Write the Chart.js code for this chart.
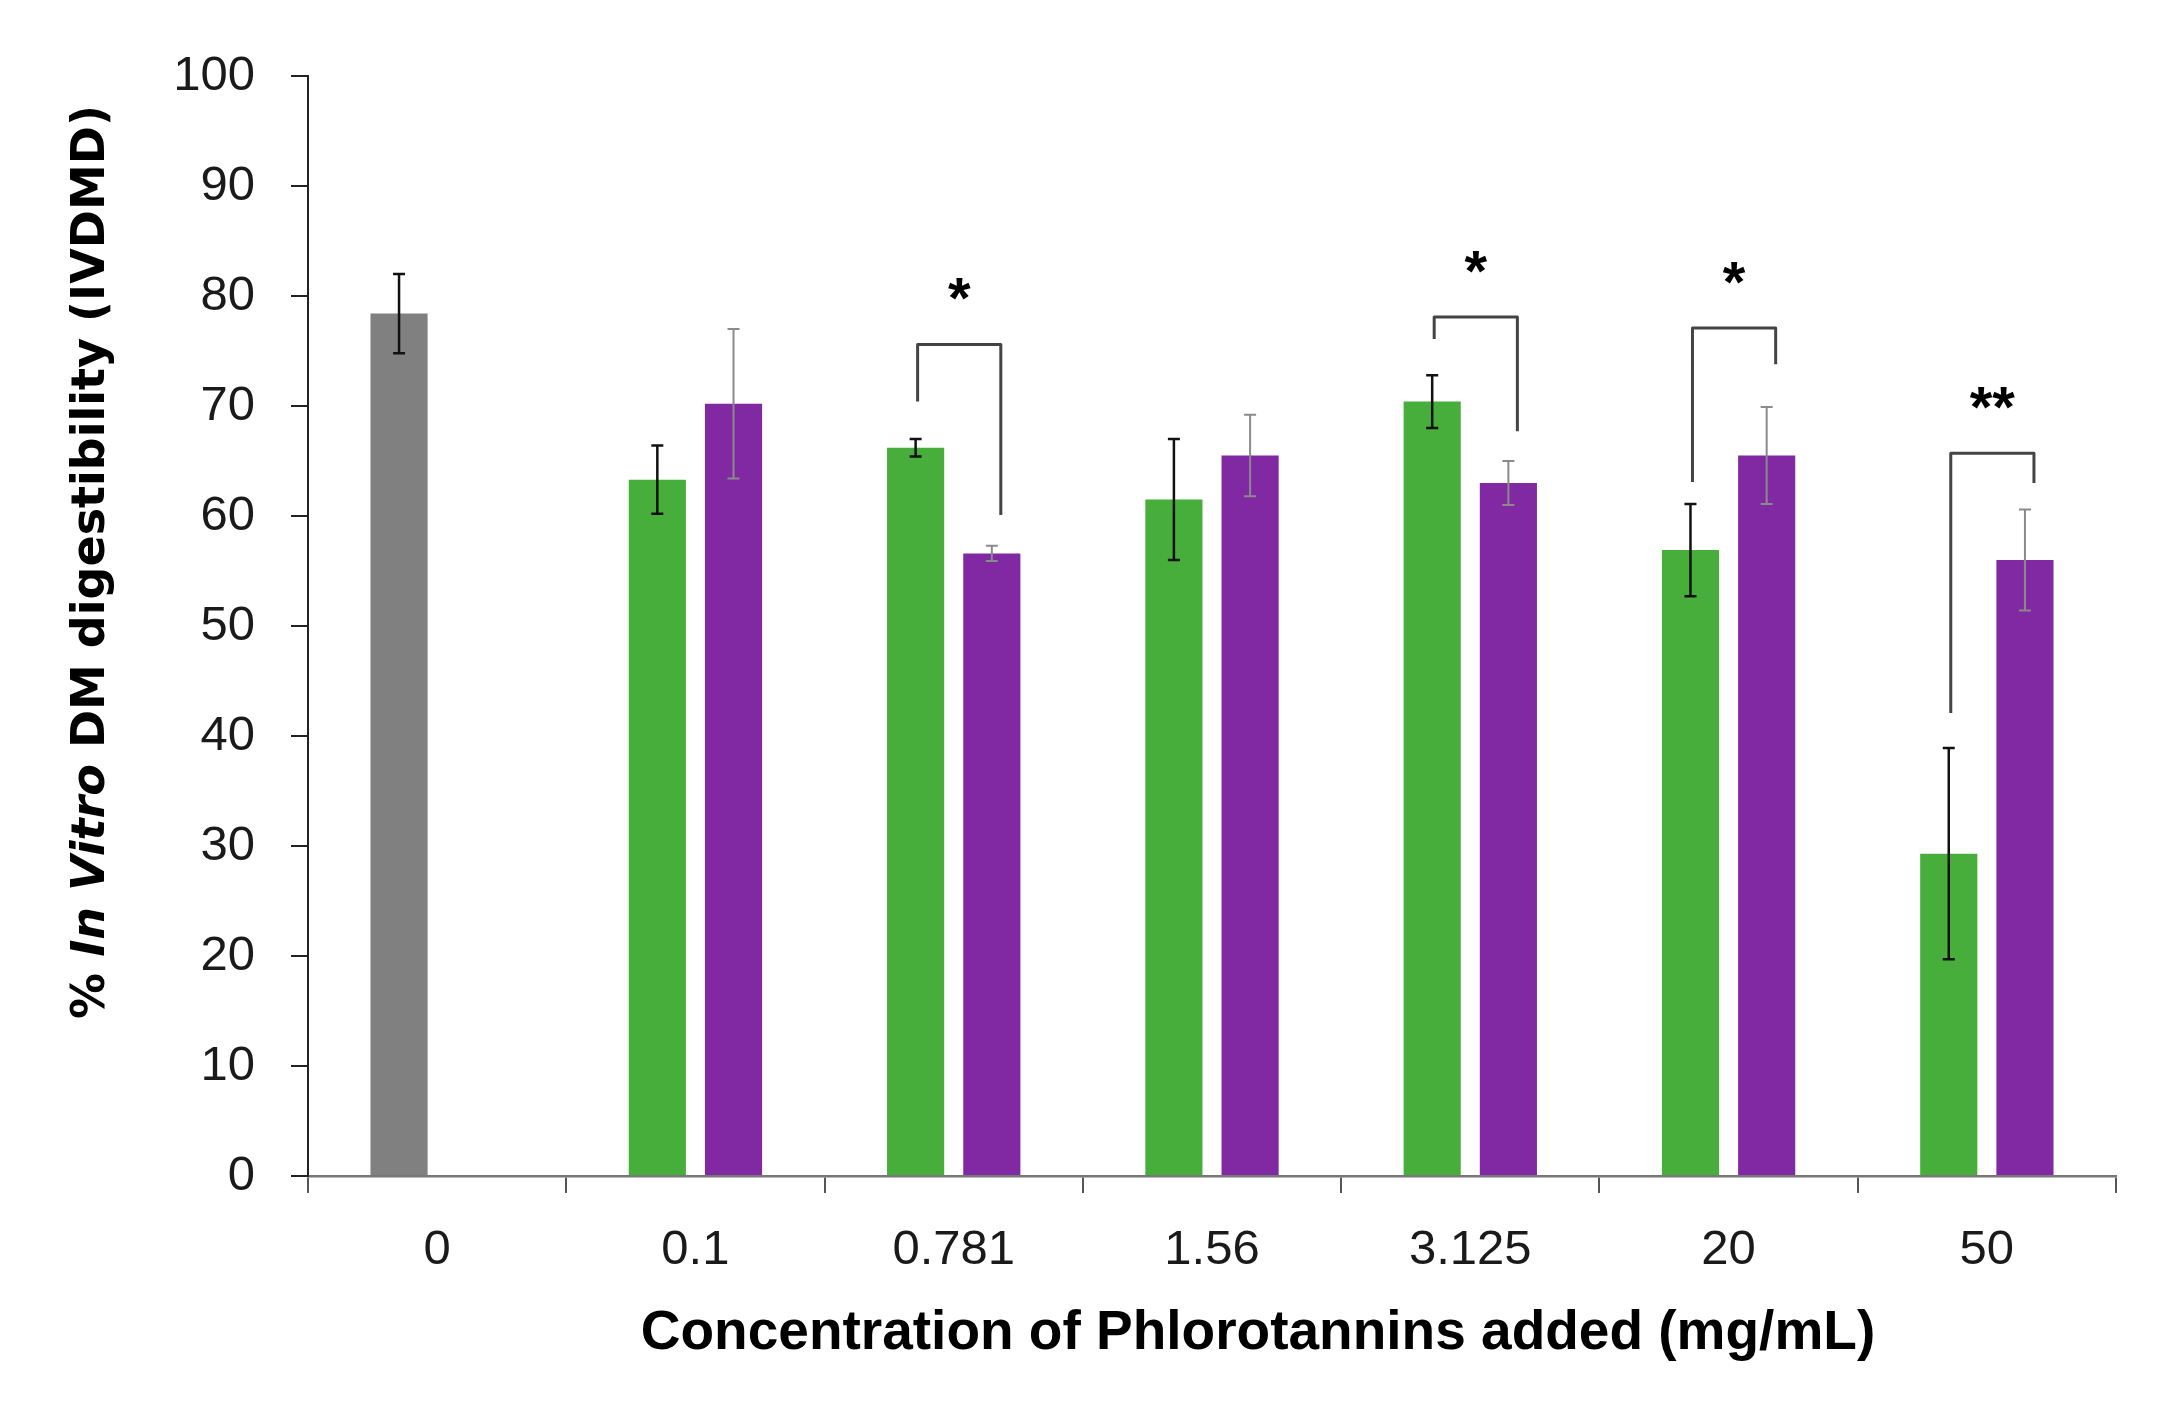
<!DOCTYPE html>
<html>
<head>
<meta charset="utf-8">
<script src="https://cdn.jsdelivr.net/npm/chart.js@4.4.1/dist/chart.umd.min.js"></script>
<style>
  html, body { margin: 0; padding: 0; background: #fff; }
  canvas { display: block; }
</style>
</head>
<body>
<canvas id="chart" width="2166" height="1402"></canvas>
<script>
// concentrations (mg/mL)
const categories = ["0", "0.1", "0.781", "1.56", "3.125", "20", "50"];

// first bar of each group (control in grey, then green)
const seriesA = [78.4, 63.3, 66.2, 61.5, 70.4, 56.9, 29.3];
const errA    = [3.6, 3.1, 0.8, 5.5, 2.4, 4.2, 9.6];

// second bar of each group (purple)
const seriesB = [null, 70.2, 56.6, 65.5, 63.0, 65.5, 56.0];
const errB    = [null, 6.8, 0.7, 3.7, 2.0, 4.4, 4.6];

// significance brackets: category, top of bracket, bottom of left leg, bottom of right leg
const sigIndex = [2, 4, 5, 6];
const sigTop   = [75.6, 78.1, 77.1, 65.7];
const sigLeft  = [70.4, 76.1, 63.1, 42.1];
const sigRight = [60.1, 67.7, 73.8, 63.0];
const sigLabel = ["*", "*", "*", "**"];

const yTicks = [0, 10, 20, 30, 40, 50, 60, 70, 80, 90, 100];

const xTitleText = "Concentration of Phlorotannins added (mg/mL)";

const GREY = "#808080";
const GREEN = "#47ae3b";
const PURPLE = "#8029a2";

const tickFont = { family: "'Liberation Sans', Arial, sans-serif", size: 49 };

// error bars
const errorBars = {
  id: "errorBars",
  afterDatasetsDraw(chart) {
    const ctx = chart.ctx;
    const y = chart.scales.y;
    const sets = [[seriesA, errA, "#111", 2.5], [seriesB, errB, "#8a8a8a", 2]];
    sets.forEach(([vals, errs, color, lw], di) => {
      const meta = chart.getDatasetMeta(di);
      vals.forEach((v, i) => {
        if (v == null) return;
        const x = meta.data[i].x;
        const yTop = y.getPixelForValue(v + errs[i]);
        const yBot = y.getPixelForValue(v - errs[i]);
        ctx.save();
        ctx.strokeStyle = color;
        ctx.lineWidth = lw;
        ctx.beginPath();
        ctx.moveTo(x, yTop); ctx.lineTo(x, yBot);
        ctx.moveTo(x - 6, yTop); ctx.lineTo(x + 6, yTop);
        ctx.moveTo(x - 6, yBot); ctx.lineTo(x + 6, yBot);
        ctx.stroke();
        ctx.restore();
      });
    });
  }
};

// significance brackets and stars
const brackets = {
  id: "brackets",
  afterDatasetsDraw(chart) {
    const ctx = chart.ctx;
    const y = chart.scales.y;
    const metaA = chart.getDatasetMeta(0);
    const metaB = chart.getDatasetMeta(1);
    sigIndex.forEach((idx, k) => {
      const xl = metaA.data[idx].x + 2;
      const xr = metaB.data[idx].x + 9;
      const yt = y.getPixelForValue(sigTop[k]);
      ctx.save();
      ctx.strokeStyle = "#444";
      ctx.lineWidth = 3;
      ctx.lineJoin = "round";
      ctx.beginPath();
      ctx.moveTo(xl, y.getPixelForValue(sigLeft[k]));
      ctx.lineTo(xl, yt);
      ctx.lineTo(xr, yt);
      ctx.lineTo(xr, y.getPixelForValue(sigRight[k]));
      ctx.stroke();
      ctx.fillStyle = "#000";
      ctx.font = "bold 58px 'Liberation Sans', Arial, sans-serif";
      ctx.textAlign = "center";
      ctx.textBaseline = "alphabetic";
      ctx.fillText(sigLabel[k], (xl + xr) / 2, yt - 26);
      ctx.restore();
    });
  }
};

// axis titles (y title has an italic part, x title sits a bit right of centre)
const axisTitles = {
  id: "axisTitles",
  afterDraw(chart) {
    const ctx = chart.ctx;
    const fam = "'DejaVu Sans', Verdana, sans-serif";
    const size = 46;
    const parts = [
      ["% ", "bold"],
      ["In Vitro", "italic bold"],
      [" DM digestibility (IVDMD)", "bold"]
    ];
    ctx.save();
    let total = 0;
    parts.forEach(p => { ctx.font = p[1] + " " + size + "px " + fam; total += ctx.measureText(p[0]).width; });
    ctx.translate(92, 562);
    ctx.rotate(-Math.PI / 2);
    ctx.fillStyle = "#000";
    ctx.textBaseline = "middle";
    ctx.textAlign = "left";
    let x = -total / 2;
    parts.forEach(p => {
      ctx.font = p[1] + " " + size + "px " + fam;
      ctx.fillText(p[0], x, 0);
      x += ctx.measureText(p[0]).width;
    });
    ctx.restore();

    ctx.save();
    ctx.fillStyle = "#000";
    ctx.font = "bold 55px 'Liberation Sans', Arial, sans-serif";
    ctx.textAlign = "center";
    ctx.textBaseline = "middle";
    ctx.fillText(xTitleText, 1258, 1334);
    ctx.restore();
  }
};

new Chart(document.getElementById("chart"), {
  type: "bar",
  data: {
    labels: categories,
    datasets: [
      {
        label: "A",
        data: seriesA,
        backgroundColor: categories.map((c, i) => i === 0 ? GREY : GREEN),
        categoryPercentage: 0.59,
        barPercentage: 0.75
      },
      {
        label: "B",
        data: seriesB,
        backgroundColor: PURPLE,
        categoryPercentage: 0.59,
        barPercentage: 0.75
      }
    ]
  },
  options: {
    responsive: false,
    devicePixelRatio: 1,
    animation: false,
    layout: { padding: { top: 76, right: 50, left: 0, bottom: 0 } },
    plugins: {
      legend: { display: false },
      tooltip: { enabled: false }
    },
    scales: {
      x: {
        afterFit(scale) { scale.height = 226; },
        grid: {
          offset: true,
          drawOnChartArea: false,
          drawTicks: true,
          tickLength: 17,
          color: "#555",
          lineWidth: 2
        },
        border: { color: "#777", width: 2.5 },
        ticks: { color: "#1a1a1a", font: tickFont, padding: 28 }
      },
      y: {
        min: 0,
        max: 100,
        afterFit(scale) { scale.width = 308; },
        afterBuildTicks(scale) { scale.ticks = yTicks.map(v => ({ value: v })); },
        grid: {
          drawOnChartArea: false,
          drawTicks: true,
          tickLength: 17,
          color: "#222",
          lineWidth: 2
        },
        border: { color: "#222", width: 2 },
        ticks: { color: "#1a1a1a", font: tickFont, padding: 36 }
      }
    }
  },
  plugins: [errorBars, brackets, axisTitles]
});
</script>
</body>
</html>
